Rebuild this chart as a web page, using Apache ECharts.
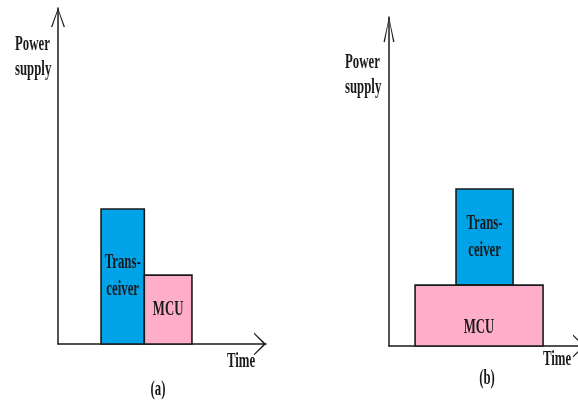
<!DOCTYPE html>
<html><head><meta charset="utf-8">
<script src="https://cdn.jsdelivr.net/npm/echarts@6/dist/echarts.min.js"></script>
<style>html,body{margin:0;padding:0;background:#fff}#c{width:578px;height:403px}</style>
</head><body><div id="c"></div>
<script>
// ---- data ----
const barNames = ['Transceiver', 'MCU'];
const barLabels = ['Trans-\nceiver', 'MCU'];
const barColors = ['#00A2E8', '#FFAEC9'];
// panel (a): sequential operation (time start, time end, power base, power top)
const aStart = [20.7, 41.5];
const aEnd = [41.5, 64.4];
const aBase = [0, 0];
const aTop = [40.2, 20.5];
// panel (b): concurrent operation
const bStart = [34.2, 13.3];
const bEnd = [63.3, 78.6];
const bBase = [18.5, 0];
const bTop = [47.7, 18.5];
const yAxisName = 'Power\nsupply';
const xAxisName = 'Time';
const captions = ['(a)', '(b)'];

// ---- styles ----
const INK = '#1a1a1a';
const FONT = 'bold 20px "Liberation Serif", "DejaVu Serif", serif';
const LFONT = 'bold 20px "Liberation Serif", "DejaVu Serif", serif';
const SX = 0.64;
// label anchor per panel/bar: 'center' or 'bottom'
const labelAnchor = [['center', 'center'], ['center', 'bottom']];

function buildData(s, e, b, t) {
  return s.map((v, i) => [v, e[i], b[i], t[i], i]);
}

function makeRender(panel) {
  return function (params, api) {
    const i = api.value(4);
    const p0 = api.coord([api.value(0), api.value(3)]);
    const p1 = api.coord([api.value(1), api.value(2)]);
    const w = p1[0] - p0[0], h = p1[1] - p0[1];
    const cx = p0[0] + w / 2;
    const cy = labelAnchor[panel][i] === 'bottom' ? p1[1] - 18 : p0[1] + h / 2;
    return {
      type: 'group',
      children: [
        { type: 'rect', shape: { x: p0[0], y: p0[1], width: w, height: h },
          style: { fill: barColors[i], stroke: INK, lineWidth: 1.6 } },
        { type: 'text', x: cx, y: cy, scaleX: SX, z2: 10,
          style: { text: barLabels[i], fill: INK, font: LFONT, lineHeight: 27,
                   align: 'center', verticalAlign: 'middle',
                   textAlign: 'center', textVerticalAlign: 'middle' } }
      ]
    };
  };
}

function chevron(w, h, t) {
  const m = w / 2;
  return 'path://M' + m + ',0 L' + w + ',' + h + ' L' + (w - t) + ',' + h +
    ' L' + m + ',' + (t * 1.6) + ' L' + t + ',' + h + ' L0,' + h + ' Z';
}

function axis(type, arrowW, arrowH) {
  return {
    type: 'value', min: 0, max: 100, gridIndex: type.g,
    axisLine: { show: true, onZero: false,
      lineStyle: { color: INK, width: 1.5 },
      symbol: ['none', chevron(arrowW, arrowH, 1.4)],
      symbolSize: [arrowW, arrowH], symbolOffset: [0, -arrowH / 2] },
    axisTick: { show: false }, axisLabel: { show: false }, splitLine: { show: false }
  };
}

const chart = echarts.init(document.getElementById('c'), null, { renderer: 'canvas' });

function txt(x, y, text, align) {
  return { type: 'text', x: x, y: y, scaleX: SX, z: 100,
    style: { text: text, fill: INK, font: FONT, lineHeight: 25,
      align: align, verticalAlign: 'middle', textAlign: align, textVerticalAlign: 'middle' } };
}

chart.setOption({
  animation: false,
  backgroundColor: '#fff',
  grid: [
    { left: 58, top: 8, width: 208, height: 336, outerBoundsMode: 'none', containLabel: false },
    { left: 389, top: 17, width: 196, height: 329, outerBoundsMode: 'none', containLabel: false }
  ],
  xAxis: [axis({ g: 0 }, 23, 12), axis({ g: 1 }, 23, 12)],
  yAxis: [axis({ g: 0 }, 14, 19), axis({ g: 1 }, 11, 25)],
  series: [
    { type: 'custom', name: 'a', xAxisIndex: 0, yAxisIndex: 0,
      data: buildData(aStart, aEnd, aBase, aTop), encode: { x: [0, 1], y: [2, 3] },
      renderItem: makeRender(0) },
    { type: 'custom', name: 'b', xAxisIndex: 1, yAxisIndex: 1,
      data: buildData(bStart, bEnd, bBase, bTop), encode: { x: [0, 1], y: [2, 3] },
      renderItem: makeRender(1) }
  ],
  graphic: [
    txt(15, 57, yAxisName, 'left'),
    txt(345, 75, yAxisName, 'left'),
    txt(227, 362, xAxisName, 'left'),
    txt(543, 360, xAxisName, 'left'),
    txt(158, 390, captions[0], 'center'),
    txt(487, 379, captions[1], 'center')
  ]
});
</script>
</body></html>
